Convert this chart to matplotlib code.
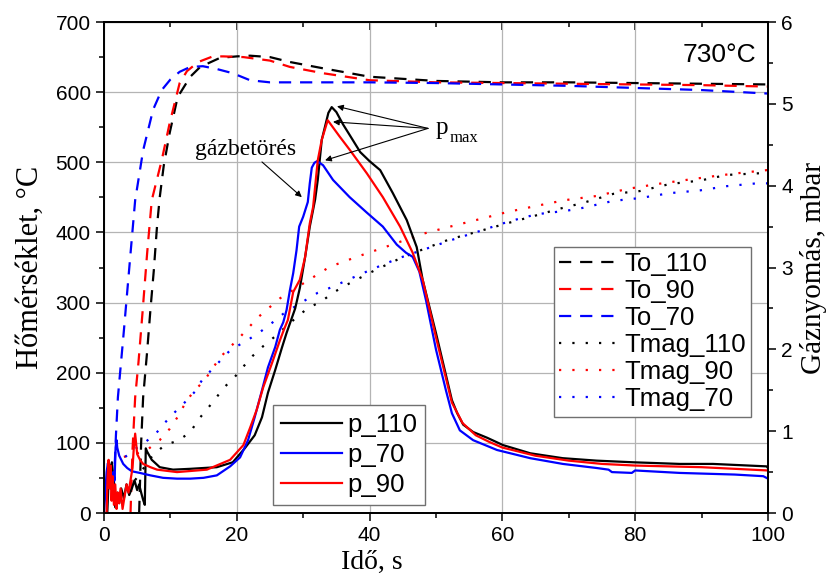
import matplotlib
matplotlib.use('Agg')
import matplotlib.pyplot as plt
from matplotlib.ticker import MultipleLocator

plt.rcParams['font.family'] = ['Liberation Sans', 'DejaVu Sans']
SERIF = ['Liberation Serif', 'DejaVu Serif']

# ---- furnace temperature To, degC (left axis) ----
to110_t = [5.3, 5.6, 5.9, 6.5, 7.0, 7.5, 8.0, 8.4, 9.0, 9.9, 11.1, 13, 14.5, 17.5, 20, 22, 25, 28,
           33, 40, 50, 60, 70, 80, 90, 100]
to110_v = [0, 100, 165, 230, 290, 345, 410, 450, 495, 542, 593, 622, 636, 649, 651, 652, 650, 643,
           634, 622, 616, 614, 614, 613, 612, 611]
to90_t = [4.0, 4.3, 4.7, 5.2, 5.8, 6.5, 7.2, 8.7, 9.9, 11.4, 12.5, 14.2, 16.4, 18, 21, 25, 28, 33,
          40, 50, 60, 70, 80, 90, 100]
to90_v = [0, 90, 165, 215, 285, 370, 446, 503, 556, 613, 630, 643, 651, 651, 650, 645, 636, 627,
          617, 614, 613, 612, 611, 610, 608]
to70_t = [1.5, 1.8, 2.1, 3.0, 4.0, 4.7, 5.9, 7.4, 8.7, 10, 11.4, 13, 14.9, 17, 19.4, 22, 25, 30,
          40, 50, 60, 70, 80, 90, 100]
to70_v = [40, 110, 165, 260, 370, 446, 517, 575, 603, 618, 629, 636, 637, 633, 627, 617, 614, 614,
          614, 613, 611, 609, 606, 603, 598]

# ---- sample temperature Tmag, degC (left axis) ----
tm110_t = [4.7, 7.4, 9.2, 11.1, 13, 14.2, 15.7, 18.2, 19.7, 21.2, 22.4, 24, 25.8, 29, 30.7, 32.8,
           34.5, 36.3, 38.3, 41, 44.6, 48.6, 52, 56.6, 60.7, 64.6, 68.7, 72.1, 76.7, 80.7, 85.2,
           89.8, 93.8, 100]
tm110_v = [47, 83, 97, 103, 115, 133, 150, 180, 194, 211, 224, 238, 252, 279, 292, 302, 314, 324,
           334, 347, 363, 378, 390, 402, 413, 423, 434, 442, 455, 459, 469, 474, 482, 485]
tm90_t = [3, 5, 6.5, 8.4, 9.9, 11.1, 12.5, 13.7, 15.2, 17.5, 20.5, 23.2, 26.5, 30.3, 34, 38, 42,
          45, 48, 52, 56.6, 60.7, 65.2, 69.4, 74.2, 78.8, 83.3, 87.8, 91.7, 95, 100]
tm90_v = [80, 85, 90, 104, 120, 137, 161, 175, 190, 222, 251, 279, 306, 329, 351, 365, 378, 388,
          398, 408, 419, 429, 438, 446, 452, 462, 469, 475, 480, 484, 489]
tm70_t = [3.2, 4.5, 6.2, 7.7, 9.2, 10.7, 12.2, 13.7, 14.8, 17, 19, 21.7, 23.5, 25.3, 27, 30.6,
          32.2, 34.3, 38.3, 41, 44.6, 48.3, 52.6, 56.6, 61.1, 65.2, 69.7, 72.1, 76.7, 80.7, 85.2,
          89.8, 93.8, 98.3, 100]
tm70_v = [80, 90, 101, 112, 129, 144, 158, 173, 190, 212, 232, 247, 258, 271, 284, 305, 314, 322,
          339, 350, 364, 376, 390, 402, 416, 426, 431, 435, 445, 449, 456, 460, 466, 470, 470]

# ---- gas pressure, mbar (right axis) ----
p110_t = [0, 0.5, 0.8, 1.0, 1.2, 1.4, 1.7, 2.0, 2.3, 2.6, 3.0, 3.4, 3.8, 4.2, 4.6, 5.0, 5.3, 5.6,
          5.9, 6.15, 6.3, 6.5, 7.2, 8.4, 10.4, 13, 17, 19.4, 21.2, 22.7, 23.8, 24.7, 25.8, 26.8,
          27.5, 28.8, 29.5, 30.3, 31, 31.8, 32.2, 32.8, 33.8, 34.3, 35, 36, 37, 38.6, 40, 41.6,
          43.5, 45.6, 47.1, 48, 50, 52.4, 53.2, 54.1, 55.6, 57.7, 60.1, 64.2, 69.1, 74.2, 79.7,
          86.7, 91.7, 99.8, 100]
p110_v = [0, 0, 0.6, 0.35, 0.62, 0.45, 0.07, 0.25, 0.12, 0.3, 0.18, 0.35, 0.22, 0.3, 0.4, 0.28,
          0.35, 0.25, 0.16, 0.1, 0.79, 0.75, 0.65, 0.56, 0.53, 0.54, 0.56, 0.62, 0.79, 0.95, 1.17,
          1.47, 1.75, 2.02, 2.2, 2.5, 2.75, 3.13, 3.5, 3.83, 4.07, 4.56, 4.89, 4.96, 4.9, 4.75,
          4.62, 4.41, 4.3, 4.19, 3.91, 3.58, 3.25, 2.85, 2.2, 1.38, 1.22, 1.08, 0.99, 0.92, 0.83,
          0.73, 0.67, 0.64, 0.62, 0.6, 0.6, 0.57, 0.55]
p90_t = [0, 0.4, 0.55, 0.7, 0.85, 1.0, 1.15, 1.3, 1.5, 1.7, 1.9, 2.1, 2.3, 2.5, 2.8, 3.1, 3.4,
         3.7, 4.0, 4.3, 4.5, 4.7, 5.0, 5.5, 5.9, 7, 8, 11, 15.5, 19, 21, 22, 23, 24, 25.3, 26.5,
         27.1, 27.7, 28.5, 29.5, 30.3, 31, 31.5, 32.2, 32.8, 33.7, 35.5, 37, 39.6, 42, 44.6, 46.5,
         48, 50, 52.4, 54, 56, 58, 60, 65, 70, 75, 80, 90, 100]
p90_v = [0, 0, 0.45, 0.65, 0.3, 0.58, 0.15, 0.45, 0.1, 0.35, 0.05, 0.25, 0.12, 0.3, 0.05, 0.2,
         0.35, 0.25, 0.4, 0.55, 0.8, 0.97, 0.72, 0.64, 0.6, 0.56, 0.53, 0.5, 0.53, 0.65, 0.83,
         1.04, 1.26, 1.54, 1.83, 2.11, 2.24, 2.36, 2.7, 2.85, 3.13, 3.54, 3.74, 4.31, 4.56, 4.8,
         4.6, 4.44, 4.15, 3.86, 3.5, 3.18, 2.85, 2.15, 1.35, 1.1, 0.95, 0.87, 0.8, 0.7, 0.64,
         0.6, 0.58, 0.56, 0.52]
p70_t = [0, 0.2, 0.4, 0.6, 0.8, 1.0, 1.2, 1.4, 1.6, 1.75, 1.9, 2.0, 2.3, 2.6, 2.9, 3.5, 4.2, 5.4,
         7, 8.9, 11, 13, 15, 17, 19, 20.5, 21.7, 22.7, 23.8, 24.7, 25.8, 26.5, 27, 27.5, 28, 28.5,
         29, 29.4, 30, 30.7, 31, 31.3, 31.7, 32.1, 33, 34.5, 37, 39.6, 42, 44.1, 45.5,
         46.5, 47.5, 48.5, 50, 51.5, 52.4, 53.6, 55.6, 59.2, 64.2, 69.1, 74.2, 76, 76.5, 79.5,
         80, 86.7, 95, 99.3, 100]
p70_v = [0, 0.24, 0.5, 0.61, 0.35, 0.55, 0.3, 0.5, 0.4, 0.8, 0.89, 0.8, 0.7, 0.65, 0.6, 0.55,
         0.51, 0.49, 0.46, 0.43, 0.42, 0.42, 0.43, 0.46, 0.57, 0.68, 0.89, 1.17, 1.5, 1.78, 2.03,
         2.24, 2.33, 2.48, 2.72, 2.93, 3.21, 3.5, 3.62, 3.8, 4.03, 4.22, 4.28, 4.3, 4.25, 4.07,
         3.86, 3.67, 3.5, 3.28, 3.18, 3.13, 2.95, 2.6, 2.0, 1.5, 1.22, 1.01, 0.89,
         0.77, 0.67, 0.6, 0.55, 0.53, 0.5, 0.49, 0.52, 0.49, 0.47, 0.45, 0.42]

BLACK, RED, BLUE = 'black', '#ff0000', '#0000ff'
LW = 1.6
DASH = (0, (5.5, 4))
DOT = (0, (1, 5))

fig = plt.figure(figsize=(8.33, 5.75), dpi=100)
ax = fig.add_axes([0.1248, 0.1078, 0.7971, 0.8539])
ax2 = ax.twinx()

l_to110, = ax.plot(to110_t, to110_v, color=BLACK, lw=LW, ls=DASH, label='To_110')
l_to90, = ax.plot(to90_t, to90_v, color=RED, lw=LW, ls=DASH, label='To_90')
l_to70, = ax.plot(to70_t, to70_v, color=BLUE, lw=LW, ls=DASH, label='To_70')
l_tm110, = ax.plot(tm110_t, tm110_v, color=BLACK, lw=LW, ls=DOT, label='Tmag_110')
l_tm90, = ax.plot(tm90_t, tm90_v, color=RED, lw=LW, ls=DOT, label='Tmag_90')
l_tm70, = ax.plot(tm70_t, tm70_v, color=BLUE, lw=LW, ls=DOT, label='Tmag_70')

l_p110, = ax2.plot(p110_t, p110_v, color=BLACK, lw=LW, label='p_110')
l_p70, = ax2.plot(p70_t, p70_v, color=BLUE, lw=LW, label='p_70')
l_p90, = ax2.plot(p90_t, p90_v, color=RED, lw=LW, label='p_90')

ax.set_xlim(0, 100)
ax.set_ylim(0, 700)
ax2.set_ylim(0, 6)
ax.xaxis.set_major_locator(MultipleLocator(20))
ax.xaxis.set_minor_locator(MultipleLocator(10))
ax.yaxis.set_major_locator(MultipleLocator(100))
ax.yaxis.set_minor_locator(MultipleLocator(50))
ax2.yaxis.set_major_locator(MultipleLocator(1))
ax2.yaxis.set_minor_locator(MultipleLocator(0.5))

ax.grid(True, which='major', color='#b4b4b4', lw=0.9)
ax.set_axisbelow(True)

for a in (ax, ax2):
    a.tick_params(which='major', direction='out', length=6, width=1.1, labelsize=15)
    a.tick_params(which='minor', direction='out', length=3.5, width=1.1)
    for s in a.spines.values():
        s.set_linewidth(1.3)

top = ax.secondary_xaxis('top')
top.xaxis.set_major_locator(MultipleLocator(20))
top.xaxis.set_minor_locator(MultipleLocator(10))
top.tick_params(which='major', direction='in', length=6, width=1.1, labeltop=False)
top.tick_params(which='minor', direction='in', length=3.5, width=1.1)

ax.set_xlabel('Idő, s', family=SERIF, fontsize=20)
ax.xaxis.set_label_coords(0.404, -0.075)
ax.set_ylabel('Hőmérséklet, °C', family=SERIF, fontsize=22, labelpad=8)
ax2.set_ylabel('Gáznyomás, mbar', family=SERIF, fontsize=21)
ax2.yaxis.set_label_coords(1.048, 0.5)

leg_t = ax2.legend(handles=[l_to110, l_to90, l_to70, l_tm110, l_tm90, l_tm70],
                   loc='upper right', bbox_to_anchor=(0.975, 0.542), borderaxespad=0,
                   fontsize=18.5, handlelength=2.4, handletextpad=0.15, labelspacing=0.12,
                   borderpad=0.2, fancybox=False, edgecolor='#707070', framealpha=1)
leg_t.get_frame().set_linewidth(1.0)
ax2.add_artist(leg_t)
leg_p = ax2.legend(handles=[l_p110, l_p70, l_p90], loc='lower left',
                   bbox_to_anchor=(0.2545, 0.016), borderaxespad=0,
                   fontsize=18.5, handlelength=2.4, handletextpad=0.2, labelspacing=0.25,
                   borderpad=0.3, fancybox=False, edgecolor='#707070', framealpha=1)
leg_p.get_frame().set_linewidth(1.0)

ax2.text(98.3, 5.6, '730°C', ha='right', va='center', fontsize=19)

# annotations
arrow = dict(arrowstyle='-|>', color='black', lw=0.8, mutation_scale=9, shrinkA=0, shrinkB=0)
ax2.text(21.4, 4.44, 'gázbetörés', family=SERIF, fontsize=17, ha='center', va='center')
ax2.annotate('', xy=(29.8, 3.86), xytext=(23.8, 4.29), arrowprops=arrow)
ax2.text(49.9, 4.70, 'p', family=SERIF, fontsize=18, ha='left', va='center')
ax2.text(52.0, 4.58, 'max', family=SERIF, fontsize=12, ha='left', va='center')
for end in [(35.1, 4.97), (34.5, 4.78), (33.3, 4.31)]:
    ax2.annotate('', xy=end, xytext=(48.8, 4.70), arrowprops=arrow)

fig.savefig('out.png', dpi=100)
